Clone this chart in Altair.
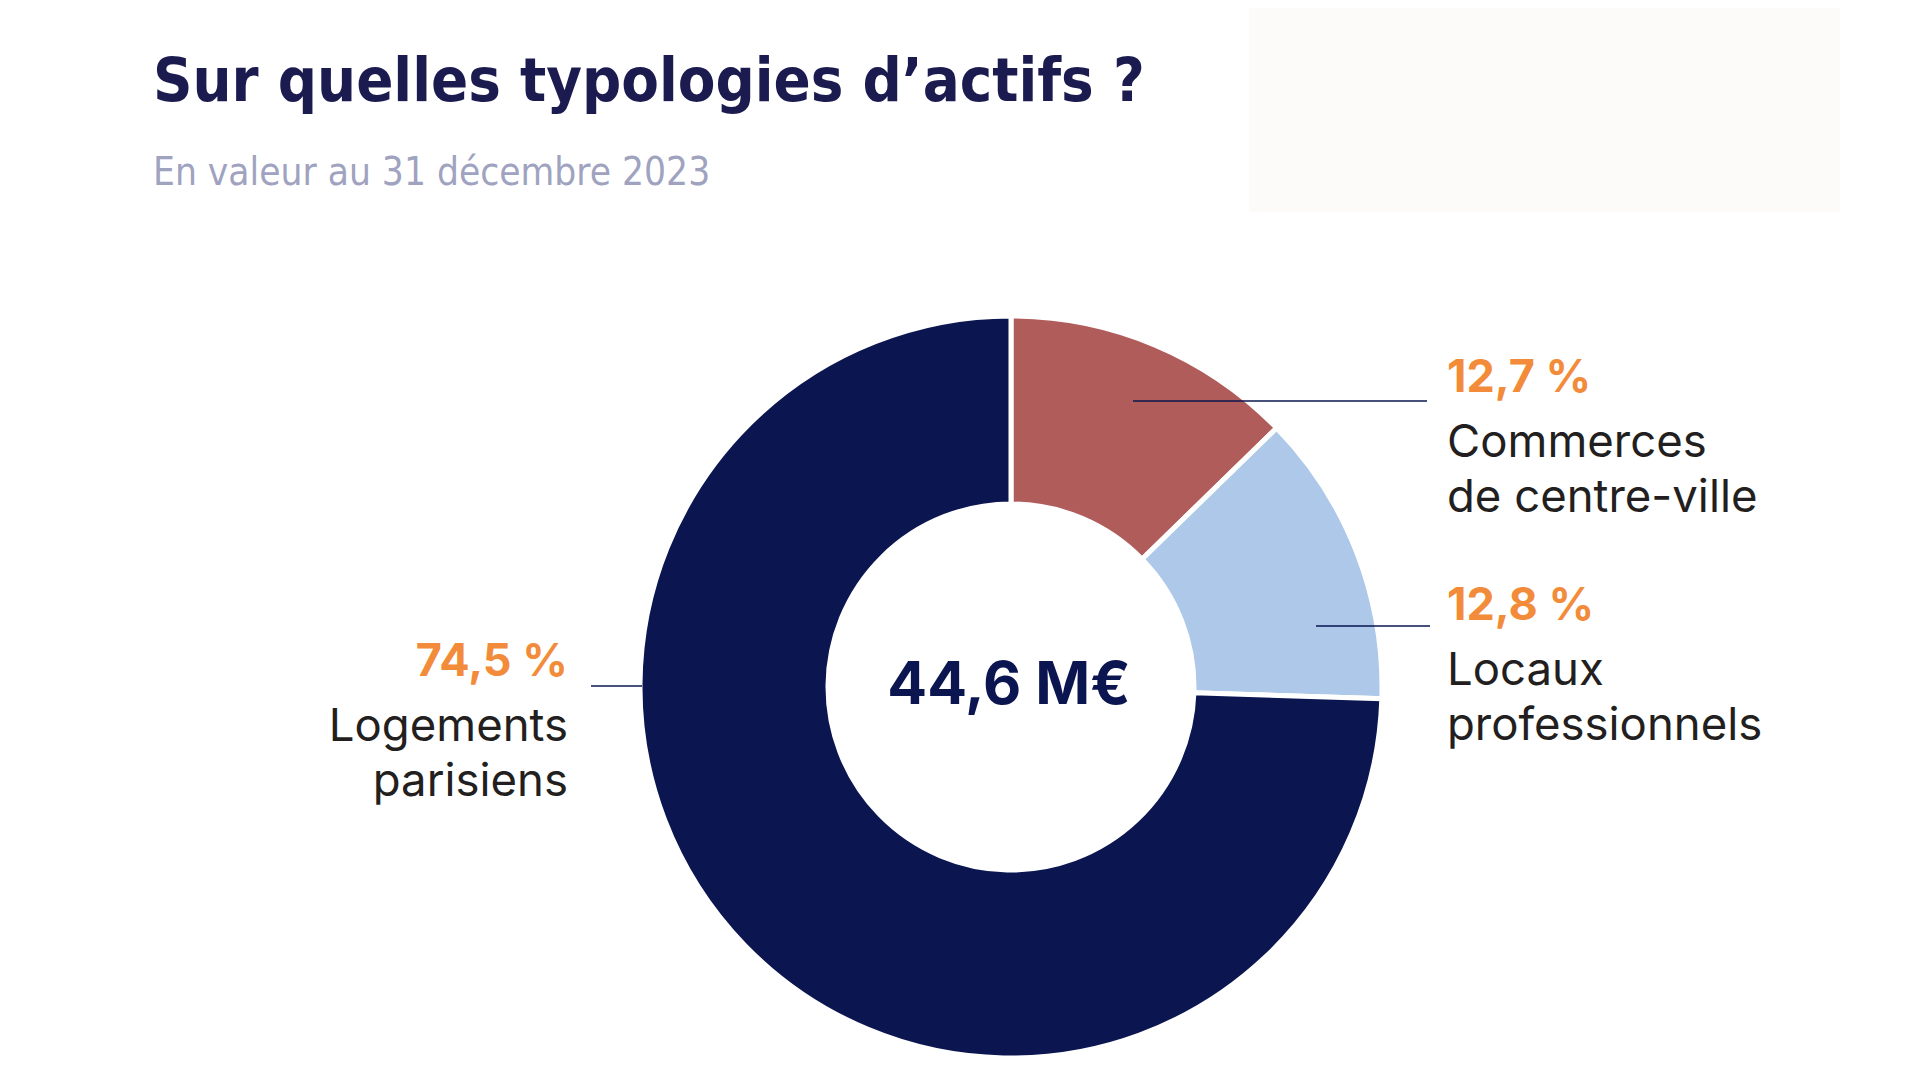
import altair as alt
import pandas as pd

# ---- data ----
categories = ["Commerces de centre-ville", "Locaux professionnels", "Logements parisiens"]
category_lines = [["Commerces", "de centre-ville"], ["Locaux", "professionnels"], ["Logements", "parisiens"]]
shares = [12.7, 12.8, 74.5]
slice_order = [0, 1, 2]
colors = ["#b05c5a", "#adc8e8", "#0b1650"]
total_label = "44,6 M€"
title_text = "Sur quelles typologies d’actifs ?"
subtitle_text = "En valeur au 31 décembre 2023"

df = pd.DataFrame({"category": categories, "share": shares, "order": slice_order})
pct_labels = [f"{v:.1f}".replace(".", ",") + " %" for v in shares]

# ---- layout ----
W, H = 1904, 1064
CX, CY = 1003, 679
R_OUT, R_IN = 371, 183
ORANGE = "#f28c3b"
DARK = "#231f20"
NAVY = "#0b1650"
LABEL_FONT = "Inter"
TITLE_FONT = "DejaVu Sans Condensed, Roboto Condensed, Liberation Sans Narrow, Roboto"


def text_layer(txt, x, y, size, color, weight="normal", font=LABEL_FONT, align="left"):
    return alt.Chart(pd.DataFrame({"t": [txt]})).mark_text(
        align=align, baseline="alphabetic", fontSize=size, fontWeight=weight,
        font=font, color=color
    ).encode(text="t:N", x=alt.value(x), y=alt.value(y))


def rule_layer(x1, x2, y, color=NAVY, width=1.6):
    return alt.Chart(pd.DataFrame({"a": [0]})).mark_rule(
        color=color, strokeWidth=width
    ).encode(x=alt.value(x1), x2=alt.value(x2), y=alt.value(y))


background = alt.Chart(pd.DataFrame({"a": [0]})).mark_rect(color="#fcfbf9").encode(
    x=alt.value(1241), x2=alt.value(1832), y=alt.value(0), y2=alt.value(204)
)

donut = alt.Chart(df).mark_arc(
    outerRadius=R_OUT, innerRadius=R_IN, stroke="white", strokeWidth=5
).encode(
    theta=alt.Theta("share:Q", stack=True),
    color=alt.Color("category:N", scale=alt.Scale(domain=categories, range=colors), legend=None),
    order=alt.Order("order:Q"),
    x=alt.value(CX),
    y=alt.value(CY),
)

layers = [background, donut]

# leader lines
layers += [
    rule_layer(1125, 1419, 393),
    rule_layer(1308, 1422, 618),
    rule_layer(583, 634, 678),
]

# title and subtitle
layers += [
    text_layer(title_text, 145, 93, 61, "#1b1b50", "bold", TITLE_FONT),
    text_layer(subtitle_text, 145, 177, 38.5, "#9fa3bf", "normal", TITLE_FONT),
]

# center total
layers.append(text_layer(total_label, 1001, 696, 59, NAVY, "bold", LABEL_FONT, "center"))

# labels
LINE = 55
label_pos = [
    (1439, 384, "left"),
    (1439, 612, "left"),
    (560, 668, "right"),
]
for (x, y, al), pct, lines in zip(label_pos, pct_labels, category_lines):
    layers.append(text_layer(pct, x, y, 45, ORANGE, "bold", LABEL_FONT, al))
    for i, ln in enumerate(lines):
        layers.append(text_layer(ln, x, y + 65 + i * LINE, 45.5, DARK, "normal", LABEL_FONT, al))

chart = alt.layer(*layers).properties(
    width=W, height=H, padding=0, autosize="none", background="white"
).configure_view(stroke=None)

chart.save("out.html", embed_options={"renderer": "svg", "actions": False})
